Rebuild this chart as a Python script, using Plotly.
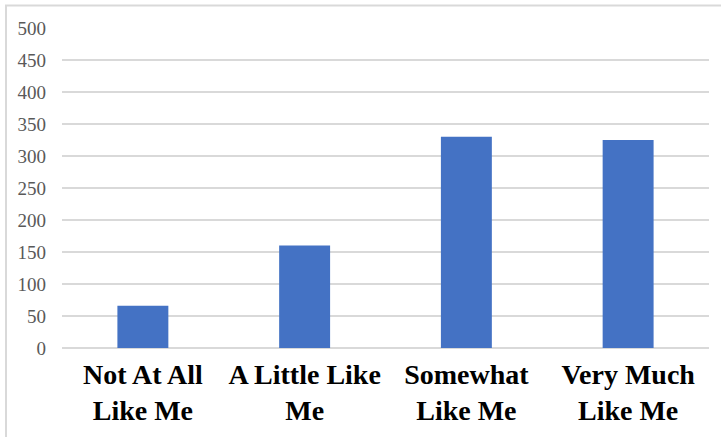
import plotly.graph_objects as go

categories = ["Not At All<br>Like Me", "A Little Like<br>Me", "Somewhat<br>Like Me", "Very Much<br>Like Me"]
values = [66, 160, 330, 325]
y_ticks = [0, 50, 100, 150, 200, 250, 300, 350, 400, 450, 500]

W, H = 721, 437
ml, mr, mt, mb = 62, 12, 28, 89
pw, ph = W - ml - mr, H - mt - mb
SERIF = "'Liberation Serif', 'Times New Roman', Times, 'DejaVu Serif', serif"

fig = go.Figure(go.Bar(x=categories, y=values, marker=dict(color="#4472C4", line=dict(width=0))))

fig.update_layout(
    width=W, height=H,
    margin=dict(l=ml, r=mr, t=mt, b=mb),
    paper_bgcolor="white", plot_bgcolor="white",
    bargap=0.685,
    showlegend=False,
    font=dict(family=SERIF),
)
fig.update_yaxes(
    range=[0, 500], tickvals=y_ticks,
    showgrid=True, gridcolor="#d9d9d9", gridwidth=1.5,
    zeroline=True, zerolinecolor="#d9d9d9", zerolinewidth=1.5,
    showline=False, ticks="", ticklabelstandoff=15,
    tickfont=dict(size=19, color="#595959", family=SERIF),
)
fig.update_xaxes(
    showgrid=False, showline=False, ticks="",
    tickfont=dict(size=28, color="black", family=SERIF, weight="bold"),
    ticklabelstandoff=7,
)
# outer chart border (top and left visible)
fig.add_shape(type="rect", xref="paper", yref="paper",
              x0=(6 - ml) / pw, x1=(W + 20 - ml) / pw,
              y0=-(H + 20 - mt - ph) / ph, y1=1 + (mt - 5.5) / ph,
              line=dict(color="#d9d9d9", width=2), layer="below")

fig.write_html("out.html")
